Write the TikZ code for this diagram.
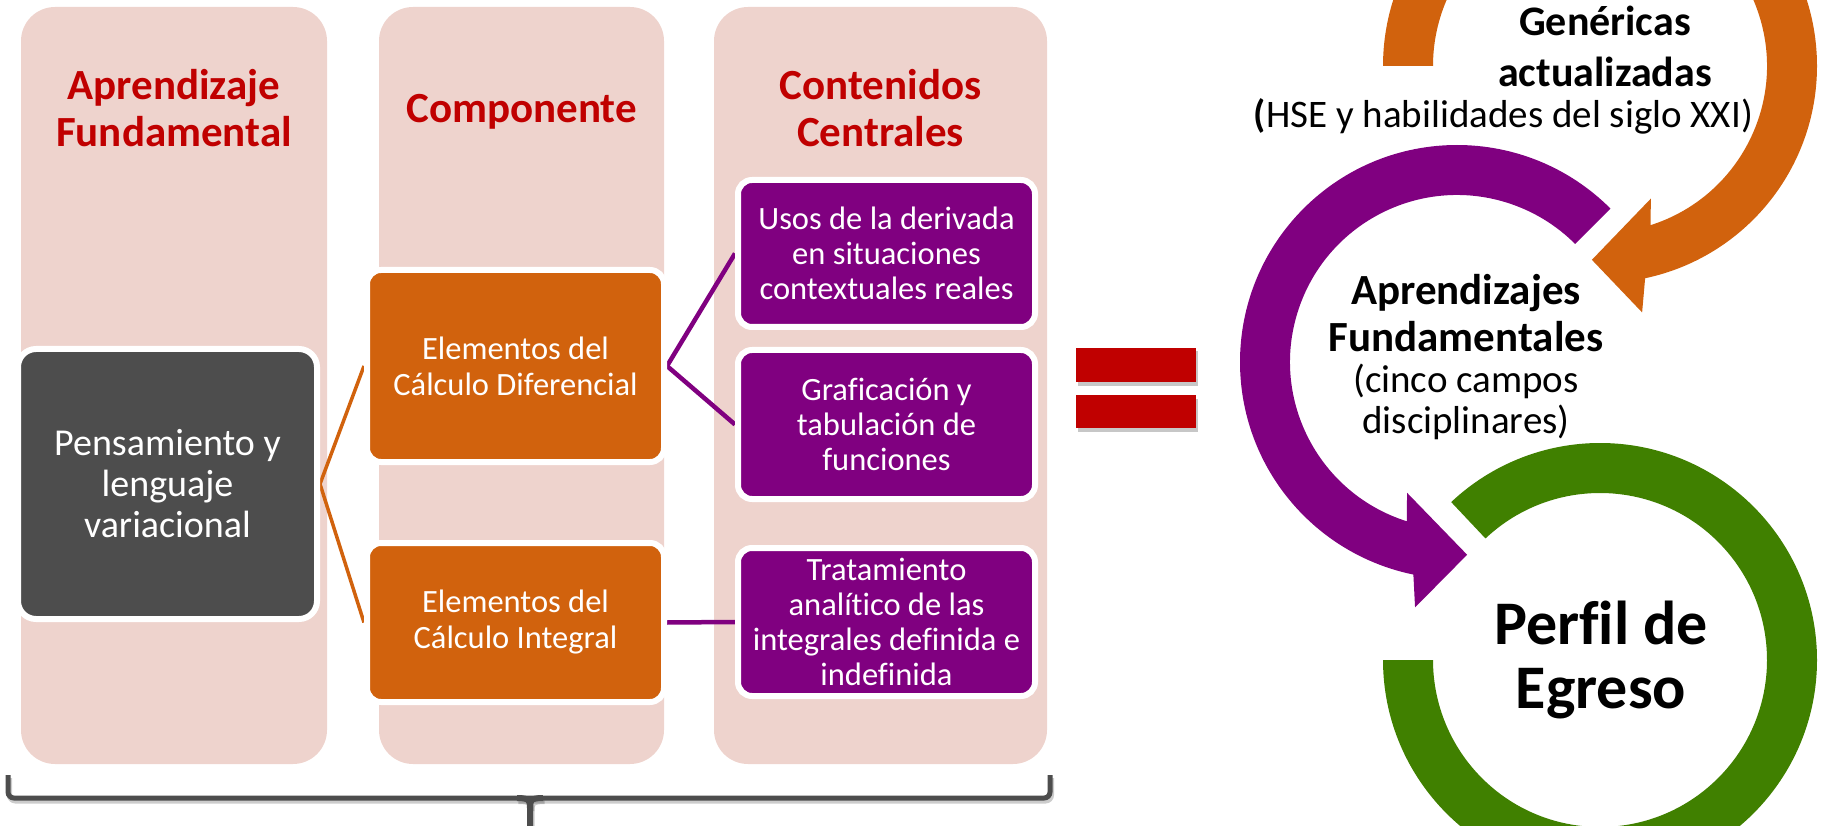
\documentclass[tikz,border=0pt]{standalone}
\usepackage{fontspec}
\setmainfont{Carlito}[Ligatures=NoCommon]
\definecolor{pinkbg}{RGB}{238,211,205}
\definecolor{hdrred}{RGB}{192,0,0}
\definecolor{boxgray}{RGB}{77,77,77}
\definecolor{boxorange}{RGB}{209,98,13}
\definecolor{boxpurple}{RGB}{128,0,128}
\definecolor{ringgreen}{RGB}{64,128,0}
\pgfdeclarelayer{bg}
\pgfdeclarelayer{mid}
\pgfsetlayers{bg,mid,main}
\begin{document}
\begin{tikzpicture}[x=1pt,y=-1pt,
  colbox/.style={fill=pinkbg, rounded corners=34pt, inner sep=0pt, minimum height=757pt},
  hdr/.style={text=hdrred, font=\fontsize{43}{47}\selectfont\bfseries, align=flush center,
    text width=300pt, inner sep=0pt, anchor=base},
  cbox/.style={draw=white, line width=6pt, rounded corners=14pt, inner sep=0pt,
    text=white, align=flush center, minimum width=297pt, text width=297pt},
  orbox/.style={cbox, fill=boxorange, font=\fontsize{32.5}{36}\selectfont},
  pubox/.style={cbox, fill=boxpurple, font=\fontsize{32.5}{35}\selectfont},
  orline/.style={boxorange, line width=3.5pt},
  puline/.style={boxpurple, line width=4.5pt},
  rtext/.style={text=black, align=flush center, inner sep=0pt, anchor=base, text width=520pt}
]
\useasboundingbox (0,0) rectangle (1824,826);
\clip (0,0) rectangle (1824,826);

% columns
\begin{pgfonlayer}{bg}
\node[colbox, minimum width=306pt] (colA) at (174,385.5) {};
\node[colbox, minimum width=285pt] (colB) at (521.5,385.5) {};
\node[colbox, minimum width=333pt] (colC) at (880.5,385.5) {};
\end{pgfonlayer}

% headers
\node[hdr] (hA) at (174,100) {Aprendizaje\\Fundamental};
\node[hdr] (hB) at (521.5,123) {Componente};
\node[hdr] (hC) at (880.5,100) {Contenidos\\Centrales};

% boxes
\node[cbox, fill=boxgray, rounded corners=18pt, minimum width=299pt, text width=290pt,
  minimum height=270pt, font=\fontsize{38}{41}\selectfont] (pens) at (167.5,484)
  {Pensamiento y\\lenguaje\\variacional};
\node[orbox, minimum height=192pt] (dif) at (515.5,366) {Elementos del\\Cálculo Diferencial};
\node[orbox, minimum height=159pt] (int) at (515.5,622.5) {Elementos del\\Cálculo Integral};
\node[pubox, minimum height=147pt] (usos) at (886.5,253.5) {Usos de la derivada\\en situaciones\\contextuales reales};
\node[pubox, minimum height=149pt] (graf) at (886.5,424.5) {Graficación y\\tabulación de\\funciones};
\node[pubox, minimum height=148pt] (trat) at (886.5,622) {Tratamiento\\analítico de las\\integrales definida e\\indefinida};

% connectors
\begin{pgfonlayer}{mid}
\draw[orline] (pens.east) -- (dif.west);
\draw[orline] (pens.east) -- (int.west);
\draw[puline] (dif.east) -- (usos.west);
\draw[puline] (dif.east) -- (graf.west);
\draw[puline] (int.east) -- (trat.west);
\end{pgfonlayer}

% equals sign
\fill[black, opacity=0.22] (1077.5,351.5) rectangle (1198,386);
\fill[black, opacity=0.22] (1077.5,398.5) rectangle (1198,432);
\fill[hdrred] (1076,348) rectangle (1196,382);
\fill[hdrred] (1076,395) rectangle (1196,428);

% brace
\begin{scope}[shift={(1.5,3)}, black, opacity=0.2, line width=5pt]
\draw[rounded corners=6pt] (8,775) -- (8,798) -- (1050,798) -- (1050,775);
\draw[line width=6pt] (517,798) .. controls (530,798) and (530,801) .. (530,808) -- (530,826);
\draw[line width=6pt] (543,798) .. controls (530,798) and (530,801) .. (530,808);
\end{scope}
\begin{scope}[boxgray, line width=5pt]
\draw[rounded corners=6pt] (8,775) -- (8,798) -- (1050,798) -- (1050,775);
\draw[line width=6pt] (517,798) .. controls (530,798) and (530,801) .. (530,808) -- (530,826);
\draw[line width=6pt] (543,798) .. controls (530,798) and (530,801) .. (530,808);
\end{scope}

% rings
\begin{scope}[shift={(1600,66)}, yscale=-1]
\fill[boxorange] (180:217) arc[start angle=180, end angle=-78, radius=217]
  -- (-80.3:250) -- (-92.4:194) -- (-69:142) -- (-72.4:167)
  arc[start angle=-72.4, end angle=180, radius=167] -- cycle;
\end{scope}
\begin{scope}[shift={(1457,362)}, yscale=-1]
\fill[boxpurple] (45:217) arc[start angle=45, end angle=258.4, radius=217]
  -- (260.3:249) -- (273:193) -- (249.1:140) -- (252.5:167)
  arc[start angle=252.5, end angle=45, radius=167] -- cycle;
\end{scope}
\begin{scope}[shift={(1600,660)}, yscale=-1]
\fill[ringgreen] (180:217) arc[start angle=180, end angle=493.3, radius=217]
  -- (493.3:167) arc[start angle=493.3, end angle=180, radius=167] -- cycle;
\end{scope}

% right texts
\node[rtext, font=\fontsize{42}{51}\selectfont\bfseries] (gen) at (1605,36) {Genéricas\\actualizadas};
\node[rtext, font=\fontsize{39}{42}\selectfont] (hse) at (1503.5,128) {{\bfseries(}HSE y habilidades del siglo XXI)};
\node[rtext, font=\fontsize{39}{41}\selectfont] (apr) at (1466,305)
  {{\fontsize{43}{47}\selectfont\bfseries Aprendizajes\\Fundamentales\par}(cinco campos\\disciplinares)};
\node[rtext, font=\fontsize{62}{64}\selectfont\bfseries] (perf) at (1601,644) {Perfil de\\Egreso};
\end{tikzpicture}
\end{document}
